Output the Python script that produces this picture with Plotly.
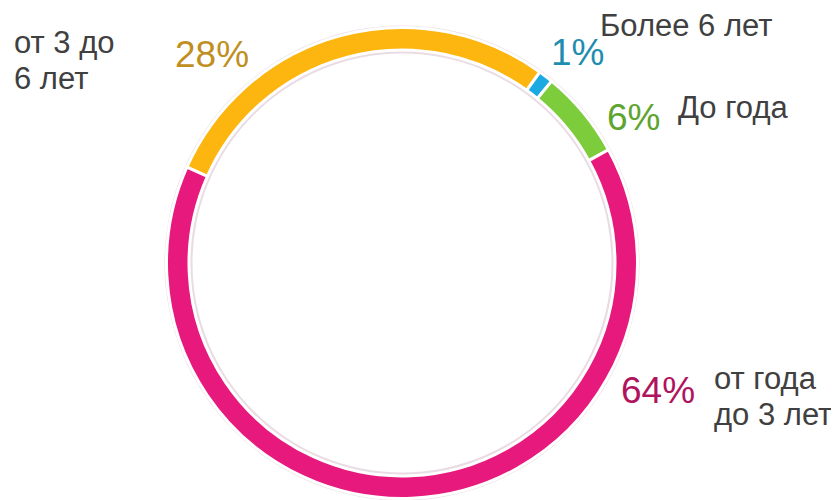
import plotly.graph_objects as go

categories = ["от 3 до<br>6 лет", "Более 6 лет", "До года", "от года<br>до 3 лет"]
values = [28, 1, 6, 64]
slice_colors = ["#FDB50F", "#1AA9E0", "#7DCC3B", "#E8197D"]
pct_colors = ["#C08F1F", "#1E8DB0", "#5EA42F", "#B0145E"]

W, H = 839, 500
OFF = 8  # page body margin
cx, cy, R = 402 - OFF, 263 - OFF, 235.5

def px_dom(cx, cy, r):
    y0 = max(0.0, (H - cy - r) / H)
    y1 = min(1.0, (H - cy + r) / H)
    return dict(x=[(cx - r) / W, (cx + r) / W], y=[y0, y1])

fig = go.Figure()
# faint outer outline
fig.add_trace(go.Pie(values=[1], marker=dict(colors=["#E9DCE4"], line=dict(width=0)),
                     hole=(R - 26) / (R + 2), domain=px_dom(cx, cy, R + 2),
                     textinfo="none", hoverinfo="skip", sort=False, showlegend=False))
fig.add_trace(go.Pie(labels=categories, values=values, sort=False, direction="clockwise",
                     rotation=294, hole=213 / R,
                     marker=dict(colors=slice_colors, line=dict(color="white", width=3)),
                     textinfo="none", domain=px_dom(cx, cy, R), showlegend=False))

font_family = "Liberation Sans, Arial, sans-serif"
label_color = "#404040"

# positions in screenshot pixels
pct_pos = [(212, 55), (577, 53), (633, 118), (658, 390)]
lab_pos = [(12, 42), (598, 25), (676, 108), (712, 378)]
line_step = 36

for i in range(len(values)):
    px, py = pct_pos[i]
    fig.add_annotation(x=(px - OFF) / W, y=1 - (py - OFF) / H, xref="paper", yref="paper",
                       text=f"{values[i]}%", showarrow=False, xanchor="center", yanchor="middle",
                       font=dict(family=font_family, size=37, color=pct_colors[i]))
    lx, ly = lab_pos[i]
    for j, line in enumerate(categories[i].split("<br>")):
        fig.add_annotation(x=(lx - OFF) / W, y=1 - (ly + j * line_step - OFF) / H,
                           xref="paper", yref="paper",
                           text=line, showarrow=False, xanchor="left", yanchor="middle", align="left",
                           font=dict(family=font_family, size=31, color=label_color))

fig.update_layout(width=W, height=H, margin=dict(l=0, r=0, t=0, b=0),
                  paper_bgcolor="white", plot_bgcolor="white")
fig.write_html("out.html")
